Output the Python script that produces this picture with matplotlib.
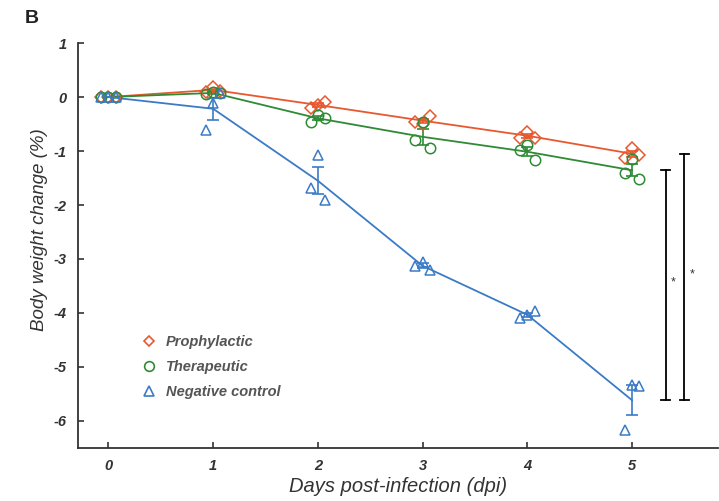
import numpy as np
import matplotlib
matplotlib.use("Agg")
import matplotlib.pyplot as plt

plt.rcParams['font.family'] = ['Liberation Sans', 'DejaVu Sans']

# days post-infection
days = [0, 1, 2, 3, 4, 5]

# body weight change (%), three animals per day (left, middle, right replicate)
prophylactic = [
    [0.0, 0.0, 0.0],
    [0.10, 0.18, 0.12],
    [-0.20, -0.15, -0.09],
    [-0.46, -0.49, -0.36],
    [-0.76, -0.64, -0.75],
    [-1.13, -0.95, -1.07],
]
therapeutic = [
    [0.0, 0.0, 0.0],
    [0.05, 0.10, 0.08],
    [-0.46, -0.33, -0.39],
    [-0.80, -0.46, -0.95],
    [-0.98, -0.89, -1.17],
    [-1.41, -1.15, -1.51],
]
negative = [
    [0.0, 0.0, 0.0],
    [-0.61, -0.11, 0.07],
    [-1.68, -1.07, -1.90],
    [-3.13, -3.05, -3.20],
    [-4.09, -4.04, -3.97],
    [-6.17, -5.33, -5.35],
]

labels = ['Prophylactic', 'Therapeutic', 'Negative control']
colors = ['#e8582f', '#2f8a35', '#3b7bc6']
markers = ['D', 'o', '^']
jitter = [-0.07, 0.0, 0.07]

fig = plt.figure(figsize=(7.19, 5.01), dpi=100)
ax = fig.add_axes([0.1085, 0.106, 0.89, 0.808])

for vals, lab, col, mk in zip([prophylactic, therapeutic, negative], labels, colors, markers):
    arr = np.array(vals)
    mean = arr.mean(axis=1)
    sem = arr.std(axis=1, ddof=1) / np.sqrt(arr.shape[1])
    ax.plot(days, mean, color=col, lw=1.3, zorder=2)
    ax.errorbar(days, mean, yerr=sem, fmt='none', ecolor=col, elinewidth=1.2,
                capsize=4, capthick=1.2, zorder=3)
    ms = 6 if mk == 'D' else 7.5
    for j, off in enumerate(jitter):
        ax.plot(np.array(days) + off, arr[:, j], linestyle='none', marker=mk,
                markersize=ms, markerfacecolor='none', markeredgecolor=col,
                markeredgewidth=1.1, zorder=4)
    ax.plot([], [], linestyle='none', marker=mk, markersize=ms - 0.5,
            markerfacecolor='none', markeredgecolor=col, markeredgewidth=1.2, label=lab)

# significance brackets at day 5
neg5 = np.mean(negative[-1])
brackets = [(5.32, np.mean(therapeutic[-1])), (5.50, np.mean(prophylactic[-1]))]
for bx, top in brackets:
    ax.plot([bx, bx], [neg5, top], color='black', lw=1.3)
    ax.plot([bx - 0.04, bx + 0.04], [top, top], color='black', lw=1.3)
    ax.plot([bx - 0.04, bx + 0.04], [neg5, neg5], color='black', lw=1.3)
    ax.text(bx + 0.07, (neg5 + top) / 2 + 0.05, '*', ha='center', va='center',
            fontsize=9, color='#333333')

ax.set_xlim(-0.29, 5.82)
ax.set_ylim(-6.5, 1)
ax.set_xticks(days)
ax.set_yticks([1, 0, -1, -2, -3, -4, -5, -6])
ax.set_yticklabels(['1', '0', '-1', '-2', '-3', '-4', '-5', '-6'])
for s in ['top', 'right']:
    ax.spines[s].set_visible(False)
for s in ['left', 'bottom']:
    ax.spines[s].set_linewidth(1.3)
    ax.spines[s].set_color('#333333')
ax.tick_params(direction='in', length=4, width=1.2, colors='#333333', labelsize=10.5, pad=8)
for t in ax.get_xticklabels() + ax.get_yticklabels():
    t.set_fontstyle('italic')
    t.set_fontweight('bold')
    t.set_color('#333333')

ax.set_xlabel('Days post-infection (dpi)', fontsize=14.5, fontstyle='italic',
              color='#333333', labelpad=3)
ax.set_ylabel('Body weight change (%)', fontsize=13.5, fontstyle='italic',
              color='#333333')
ax.yaxis.set_label_coords(-0.047, 0.54)

leg = ax.legend(loc='upper left', bbox_to_anchor=(0.09, 0.293), frameon=False,
                borderaxespad=0, handletextpad=0.7, labelspacing=0.75, handlelength=1.0,
                prop={'size': 10.5, 'style': 'italic', 'weight': 'bold'})
for t in leg.get_texts():
    t.set_color('#555555')

fig.text(0.035, 0.955, 'B', fontsize=14, fontweight='bold', color='#222222')

fig.savefig('out.png', dpi=100)
